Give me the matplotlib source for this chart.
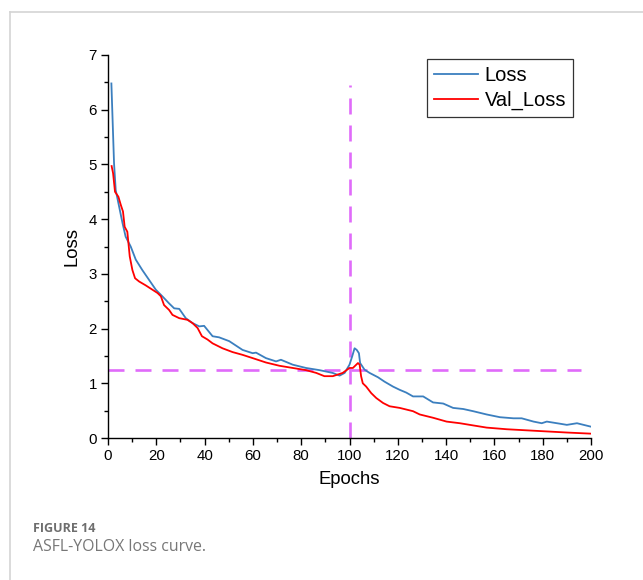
import matplotlib
matplotlib.use("Agg")
import matplotlib.pyplot as plt
from matplotlib.lines import Line2D
from matplotlib.ticker import MultipleLocator

# ---- data ----
loss_epochs = [1.4, 2.5, 3.2, 4.6, 6.0, 7.3, 9.4, 11.5, 14.2, 17.0, 19.8, 22.5, 25.3, 27.4,
               29.5, 32.2, 35.0, 37.8, 39.8, 43.3, 46.0, 50.2, 55.7, 59.9, 61.3, 65.4, 69.6,
               71.6, 76.5, 82.0, 87.6, 93.0, 95.9, 98.0, 100.0, 101.1, 102.1, 103.0, 103.9,
               104.4, 106.2, 108.3, 111.8, 114.5, 118.0, 120.8, 123.5, 126.3, 130.5, 134.6,
               138.8, 142.9, 147.1, 151.2, 156.8, 162.3, 167.9, 171.3, 176.2, 179.6, 181.7,
               187.3, 190.0, 194.2, 199.7]
loss_values = [6.48, 5.02, 4.53, 4.23, 3.93, 3.68, 3.50, 3.26, 3.07, 2.89, 2.71, 2.59, 2.46, 2.37,
               2.36, 2.19, 2.10, 2.04, 2.05, 1.86, 1.84, 1.77, 1.61, 1.55, 1.56, 1.46, 1.40,
               1.43, 1.34, 1.28, 1.24, 1.19, 1.14, 1.19, 1.34, 1.49, 1.64, 1.61, 1.55,
               1.37, 1.25, 1.19, 1.11, 1.03, 0.94, 0.88, 0.83, 0.76, 0.76, 0.65,
               0.63, 0.55, 0.53, 0.49, 0.43, 0.38, 0.36, 0.36, 0.30, 0.27, 0.30,
               0.26, 0.24, 0.27, 0.21]

val_epochs = [1.5, 2.1, 2.9, 4.3, 5.3, 6.2, 6.9, 8.0, 9.0, 10.1, 11.2, 12.9, 15.6, 18.4, 20.5,
              21.9, 23.2, 25.3, 26.7, 29.5, 32.9, 35.0, 37.1, 38.9, 41.2, 43.3, 47.4, 51.6,
              55.7, 59.9, 65.4, 71.0, 76.5, 82.0, 86.2, 89.6, 93.1, 97.2, 100.0, 101.4, 103.5,
              104.2, 104.8, 105.5, 106.9, 109.0, 111.1, 113.9, 116.6, 120.8, 126.3, 129.1,
              134.6, 140.2, 145.7, 151.2, 156.8, 165.1, 173.4, 181.7, 190.0, 199.7]
val_values = [4.97, 4.84, 4.50, 4.41, 4.26, 4.14, 3.86, 3.77, 3.32, 3.07, 2.92, 2.86, 2.79, 2.71, 2.65,
              2.59, 2.43, 2.34, 2.25, 2.19, 2.16, 2.10, 2.01, 1.86, 1.80, 1.73, 1.64, 1.57,
              1.52, 1.46, 1.38, 1.32, 1.28, 1.24, 1.19, 1.13, 1.13, 1.19, 1.28, 1.28, 1.37,
              1.34, 1.13, 1.00, 0.94, 0.82, 0.73, 0.64, 0.58, 0.55, 0.49, 0.43,
              0.37, 0.30, 0.27, 0.23, 0.19, 0.16, 0.14, 0.12, 0.10, 0.08]

vline_x = 100
vline_top = 6.45
hline_y = 1.25
hline_range = (0, 196)

x_ticks = [0, 20, 40, 60, 80, 100, 120, 140, 160, 180, 200]
y_ticks = [0, 1, 2, 3, 4, 5, 6, 7]

BLUE = "#3B7FBF"
RED = "#FF0000"
MAG = "#E06BFA"

plt.rcParams['font.family'] = ['Liberation Sans', 'DejaVu Sans']

fig = plt.figure(figsize=(6.43, 5.80), dpi=100)
ax = fig.add_axes([108/643, 1 - 438/580, (591-108)/643, (438-55)/580])

ax.plot(loss_epochs, loss_values, color=BLUE, lw=1.3, label="Loss", zorder=3)
ax.plot(val_epochs, val_values, color=RED, lw=1.3, label="Val_Loss", zorder=3)

lw_d = 1.9
dash = (16*0.72/lw_d, 11*0.72/lw_d)
ax.plot([vline_x, vline_x], [0, vline_top], color=MAG, lw=lw_d, linestyle=(0, dash), zorder=2)
ax.plot(list(hline_range), [hline_y, hline_y], color=MAG, lw=lw_d, linestyle=(0, dash), zorder=2)

ax.set_xlim(0, 200)
ax.set_ylim(0, 7)
ax.set_xticks(x_ticks)
ax.set_yticks(y_ticks)
ax.xaxis.set_minor_locator(MultipleLocator(10))
ax.yaxis.set_minor_locator(MultipleLocator(0.5))
for s in ["top", "right"]:
    ax.spines[s].set_visible(False)
for s in ["left", "bottom"]:
    ax.spines[s].set_linewidth(1.0)
ax.tick_params(which="major", direction="out", length=5, width=1.0, labelsize=10.8, pad=3)
ax.tick_params(which="minor", direction="out", length=3, width=1.0)

ax.set_xlabel("Epochs", fontsize=13.3, labelpad=6)
ax.set_ylabel("Loss", fontsize=13.3, labelpad=6)

leg = ax.legend(loc="upper right", bbox_to_anchor=(573/643, 1 - 59/580), bbox_transform=fig.transFigure,
                fontsize=14.5, frameon=True, fancybox=False, handlelength=2.2, handletextpad=0.3,
                borderpad=0.35, labelspacing=0.3, borderaxespad=0)
leg.get_frame().set_edgecolor("black")
leg.get_frame().set_linewidth(0.9)

# card border
fig.add_artist(Line2D([10/643, 1], [1 - 12/580, 1 - 12/580], transform=fig.transFigure, color="#d4d4d4", lw=1.2))
fig.add_artist(Line2D([10/643, 10/643], [0, 1 - 12/580], transform=fig.transFigure, color="#d4d4d4", lw=1.2))

# caption
fig.text(33/643, 1 - 532/580, "FIGURE 14", fontsize=9.0, fontweight="bold", color="#6e6e6e",
         family=["Open Sans", "DejaVu Sans"], va="baseline")
fig.text(33/643, 1 - 551/580, "ASFL-YOLOX loss curve.", fontsize=11.4, color="#777777",
         family=["Open Sans", "DejaVu Sans"], va="baseline")

fig.savefig("out.png", dpi=100)
